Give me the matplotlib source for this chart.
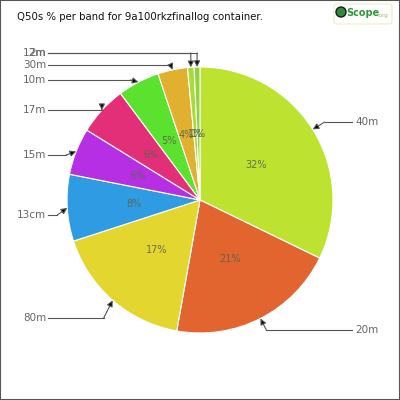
import numpy as np
import matplotlib
matplotlib.use("Agg")
import matplotlib.pyplot as plt
from matplotlib.patches import Rectangle, FancyBboxPatch, Circle

# --- data ---
bands = ["40m", "20m", "80m", "13cm", "15m", "17m", "10m", "30m", "12m", "2m"]
shares = [32.2, 20.6, 17.2, 8.1, 5.7, 6.0, 5.1, 3.6, 0.8, 0.7]
colors = ["#bde22f", "#e2652f", "#e2d62f", "#2f9be2", "#b72fe2",
          "#e22f77", "#5ae22f", "#e2b02f", "#a6dc3a", "#8fd43c"]

# label layout (pixel y of label, side, elbow offset)
label_y = [122, 330, 318, 215, 155, 110, 80, 65, 53, 53]
label_side = [1, 1, -1, -1, -1, -1, -1, -1, -1, -1]
elbow_dx = [12, 6, 9, 10, 10, 0, 8, 2, 0, 0]

W = 400
fig = plt.figure(figsize=(4, 4), dpi=100)
ax = fig.add_axes([0, 0, 1, 1])

cx, cy, R = 200, 200, 133
wedges, _, pcts = ax.pie(
    shares, colors=colors, startangle=90, counterclock=False,
    center=(cx, W - cy), radius=R, autopct=lambda p: f"{p:.0f}%",
    pctdistance=0.5, wedgeprops=dict(edgecolor="white", linewidth=0.8),
    textprops=dict(fontsize=7, color="#5a6450", family="Liberation Sans Narrow"))
for t in pcts:
    t.set_alpha(0.9)

ax.set_xlim(0, W)
ax.set_ylim(0, W)
ax.set_aspect("equal")
ax.axis("off")

line_c = "#555555"
for w, name, ly, side, dx in zip(wedges, bands, label_y, label_side, elbow_dx):
    mid = np.deg2rad((w.theta1 + w.theta2) / 2)
    tx = cx + R * np.cos(mid)
    ty = (W - cy) + R * np.sin(mid)
    y = W - ly
    ex = tx + side * dx
    if side > 0:
        x0 = 352
        ax.text(x0 + 3, y, name, ha="left", va="center", fontsize=7.5,
                color="#666666", family="Liberation Sans Narrow")
    else:
        x0 = 48
        ax.text(x0 - 2, y, name, ha="right", va="center", fontsize=7.5,
                color="#666666", family="Liberation Sans Narrow")
    ax.plot([x0, ex], [y, y], color=line_c, lw=0.8)
    ax.annotate("", xy=(tx, ty), xytext=(ex, y),
                arrowprops=dict(arrowstyle="-|>", fc="black", ec=line_c,
                                lw=0.8, mutation_scale=9,
                                shrinkA=0, shrinkB=0))

# title
fig.text(17 / W, 1 - 17 / W, "Q50s % per band for 9a100rkzfinallog container.",
         ha="left", va="center", fontsize=7.3, color="#111111",
         family="Liberation Sans Narrow")

# logo
fig.patches.append(FancyBboxPatch((334 / W, 1 - 24 / W), 58 / W, 20 / W,
                                  boxstyle="round,pad=0,rounding_size=0.008",
                                  transform=fig.transFigure, fc="white",
                                  ec="#e6efc8", lw=0.8))
fig.patches.append(Circle((341 / W, 1 - 12 / W), 5 / W, transform=fig.transFigure,
                          fc="#2e8b3a", ec="#1a1a1a", lw=1))
fig.text(346 / W, 1 - 13 / W, "Scope", ha="left", va="center", fontsize=7,
         color="#2e9a3a", weight="bold", family="Liberation Sans Narrow")
fig.text(377 / W, 1 - 15 / W, ".org", ha="left", va="center", fontsize=4,
         color="#8cc06a", family="DejaVu Sans")

# border
fig.patches.append(Rectangle((0, 0), 1, 1, transform=fig.transFigure,
                             fill=False, ec="#555555", lw=1.5))

fig.savefig("out.png", dpi=100)
